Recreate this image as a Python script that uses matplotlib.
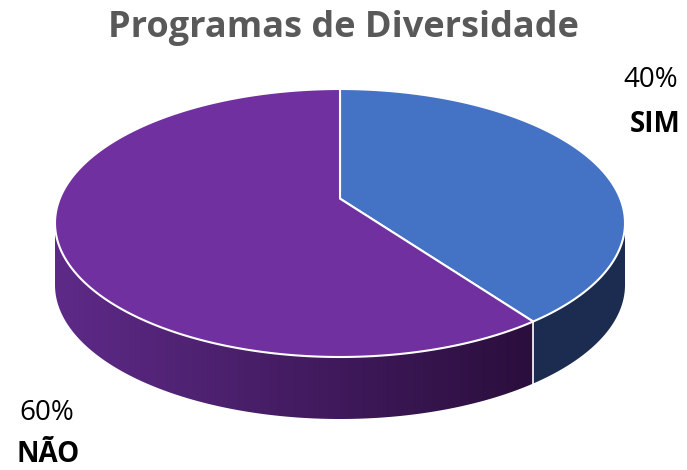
import matplotlib
matplotlib.use("Agg")
import matplotlib.pyplot as plt
import numpy as np
from matplotlib.patches import Polygon
from matplotlib.colors import LinearSegmentedColormap

# data
labels = ["SIM", "NÃO"]
values = [40, 60]
top_colors = ["#4472C4", "#7030A0"]
side_colors = [("#1B2C50", "#1B2C50"), ("#5E2A88", "#2A0E3C")]
title = "Programas de Diversidade"

# geometry (pixel space), simple perspective of a tilted disc
cx = 340
y_top, y_bot = 89, 357
half_w = 285
dist = 5.5          # camera distance in disc radii
depth = 62

B = (y_bot - y_top) / (1 / (dist + 1) + 1 / (dist - 1))
Y0 = y_top + B / (dist + 1)
A = half_w * np.sqrt(dist ** 2 - 1)

plt.rcParams['font.family'] = ['Open Sans', 'DejaVu Sans']
fig = plt.figure(figsize=(6.87, 4.70), dpi=100)
ax = fig.add_axes([0, 0, 1, 1])
ax.set_xlim(0, 687)
ax.set_ylim(470, 0)
ax.axis("off")


def proj(phi, dy=0):
    # phi in degrees, clockwise from top of the disc
    phi = np.radians(np.atleast_1d(phi))
    u, v = np.sin(phi), -np.cos(phi)
    return np.column_stack([cx + A * u / (dist - v), Y0 + dy + B * v / (dist - v)])


def arc(p0, p1, dy=0, n=240):
    return proj(np.linspace(p0, p1, n), dy)


fracs = np.array(values) / sum(values)
edges = np.concatenate([[0], np.cumsum(fracs)]) * 360

# visible side between the silhouette points
sil = np.degrees(np.arccos(-1 / dist))
vis0, vis1 = sil, 360 - sil

for i in range(len(values)):
    s0, s1 = max(edges[i], vis0), min(edges[i + 1], vis1)
    if s1 <= s0:
        continue
    poly = np.vstack([arc(s0, s1), arc(s1, s0, dy=depth)])
    c0, c1 = side_colors[i]
    cmap = LinearSegmentedColormap.from_list("g", [c0, c1])
    grad = np.linspace(0, 1, 256).reshape(1, -1)
    im = ax.imshow(grad, cmap=cmap,
                   extent=[poly[:, 0].min(), poly[:, 0].max(), poly[:, 1].max(), poly[:, 1].min()],
                   aspect="auto", zorder=1)
    p = Polygon(poly, closed=True, facecolor="none", edgecolor="none")
    ax.add_patch(p)
    im.set_clip_path(p)

# vertical separators on the side
for e in edges:
    ang = e % 360
    if vis0 < ang < vis1:
        x, y = proj(ang)[0]
        ax.plot([x, x], [y, y + depth], color="white", lw=1.2, zorder=2)

# top wedges
centre = proj(0)[0] * 0 + [cx, Y0]
for i in range(len(values)):
    pts = np.vstack([centre, arc(edges[i], edges[i + 1])])
    ax.add_patch(Polygon(pts, closed=True, facecolor=top_colors[i],
                         edgecolor="white", lw=1.5, zorder=3))

ax.text(343, 28, title, ha="center", va="center", fontsize=26,
        fontweight="bold", color="#595959")
ax.text(651, 80, f"{values[0]}%", ha="center", va="center", fontsize=20, color="black")
ax.text(655, 125, labels[0], ha="center", va="center", fontsize=20,
        fontweight="bold", color="black")
ax.text(47, 413, f"{values[1]}%", ha="center", va="center", fontsize=20, color="black")
ax.text(48, 455, labels[1], ha="center", va="center", fontsize=20,
        fontweight="bold", color="black")

fig.savefig("out.png", dpi=100)
